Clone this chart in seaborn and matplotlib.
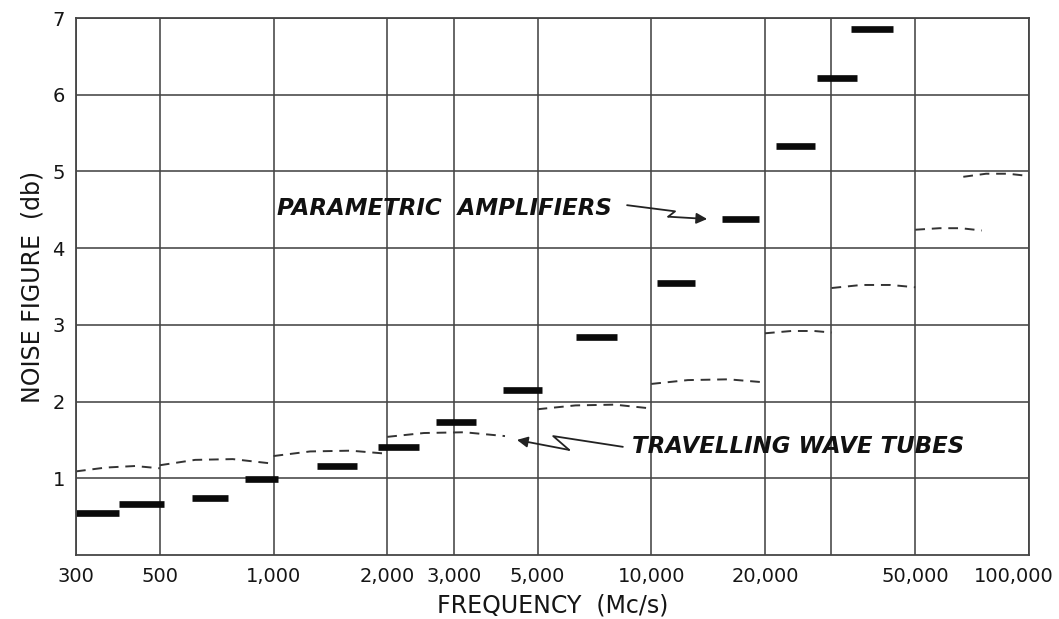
import numpy as np
import pandas as pd
import matplotlib
matplotlib.use("Agg")
import matplotlib.pyplot as plt
import matplotlib.transforms as mtransforms
import seaborn as sns

# ---------------- data ----------------
# Parametric amplifiers: horizontal bars (freq range in Mc/s, noise figure in db)
pa_lo = [300, 390, 610, 840, 1300, 1890, 2690, 4050, 6330, 10350, 15400, 21400, 27500, 33700]
pa_hi = [390, 512, 760, 1030, 1660, 2430, 3440, 5140, 8110, 13050, 19300, 27100, 35100, 43600]
pa_nf = [0.55, 0.66, 0.74, 0.99, 1.16, 1.41, 1.74, 2.15, 2.84, 3.55, 4.38, 5.33, 6.22, 6.86]

# Travelling wave tubes: dashed arcs, one per band
twt_freq = [
    [300, 360, 430, 500],
    [500, 620, 780, 1000],
    [1000, 1250, 1600, 2000],
    [2000, 2500, 3200, 4100],
    [5000, 6300, 8000, 10000],
    [10000, 12500, 16000, 20000],
    [20000, 23500, 27000, 30000],
    [30000, 36000, 43000, 50000],
    [50000, 58000, 66000, 75000],
    [67000, 77000, 88000, 100000],
]
twt_nf = [
    [1.09, 1.14, 1.16, 1.13],
    [1.17, 1.24, 1.25, 1.19],
    [1.29, 1.35, 1.36, 1.32],
    [1.54, 1.59, 1.60, 1.55],
    [1.90, 1.95, 1.96, 1.91],
    [2.23, 2.28, 2.29, 2.25],
    [2.89, 2.92, 2.92, 2.90],
    [3.48, 3.52, 3.52, 3.49],
    [4.24, 4.26, 4.26, 4.23],
    [4.93, 4.97, 4.97, 4.94],
]

x_ticks = [300, 500, 1000, 2000, 3000, 5000, 10000, 20000, 30000, 50000, 100000]
x_tick_labels = ["300", "500", "1,000", "2,000", "3,000", "5,000", "10,000", "20,000", "", "50,000", "100,000"]
y_ticks = [1, 2, 3, 4, 5, 6, 7]
y_tick_labels = ["1", "2", "3", "4", "5", "6", "7"]

# ---------------- build long tables ----------------
pa_rows = []
for i, (lo, hi, nf) in enumerate(zip(pa_lo, pa_hi, pa_nf)):
    pa_rows.append({"seg": i, "freq": lo, "nf": nf})
    pa_rows.append({"seg": i, "freq": hi, "nf": nf})
df_pa = pd.DataFrame(pa_rows)

twt_rows = []
for i, (fs, ns) in enumerate(zip(twt_freq, twt_nf)):
    for f, n in zip(fs, ns):
        twt_rows.append({"seg": i, "freq": f, "nf": n})
df_twt = pd.DataFrame(twt_rows)

# ---------------- style ----------------
sns.set_style("white")
plt.rcParams["font.family"] = ["DejaVu Sans"]

fig = plt.figure(figsize=(10.59, 6.19), dpi=100)
ax = fig.add_axes([76 / 1059, 1 - 555 / 619, (1029 - 76) / 1059, (555 - 18) / 619])

grid_c = "#454545"

sns.lineplot(data=df_twt, x="freq", y="nf", units="seg", estimator=None,
             color="#333333", lw=1.4, ax=ax, legend=False,
             dashes=False, linestyle=(0, (5, 3.5)))
sns.lineplot(data=df_pa, x="freq", y="nf", units="seg", estimator=None,
             color="#0a0a0a", lw=4.8, ax=ax, legend=False,
             solid_capstyle="butt")

ax.set_xscale("log")
ax.set_xlim(300, 100000)
ax.set_ylim(0, 7)

ax.set_xticks(x_ticks)
ax.set_xticklabels(x_tick_labels)
ax.xaxis.set_minor_locator(matplotlib.ticker.NullLocator())
ax.set_yticks(y_ticks)
ax.set_yticklabels(y_tick_labels)

ax.tick_params(axis="x", length=0, pad=9, labelsize=14, colors="#151515")
ax.tick_params(axis="y", length=0, pad=8, labelsize=14, colors="#151515")

# last x label shifted left as in the reference
lbls = ax.get_xticklabels()
off = mtransforms.ScaledTranslation(-15 / 100, 0, fig.dpi_scale_trans)
lbls[-1].set_transform(lbls[-1].get_transform() + off)

ax.grid(True, which="major", color=grid_c, lw=1.15)
for s in ax.spines.values():
    s.set_color(grid_c)
    s.set_linewidth(1.3)

ax.set_xlabel("FREQUENCY  (Mc/s)", fontsize=17, color="#151515", labelpad=5)
ax.set_ylabel("NOISE FIGURE  (db)", fontsize=17, color="#151515", labelpad=6)

# ---------------- annotations ----------------
txt_kw = dict(fontsize=16.5, fontstyle="italic", fontweight="bold", color="#111111", va="center")
ax.text(1020, 4.52, "PARAMETRIC  AMPLIFIERS", ha="left", **txt_kw)
ax.text(8890, 1.42, "TRAVELLING WAVE TUBES", ha="left", **txt_kw)

# zigzag arrow: parametric amplifiers
pa_arrow_x = [8630, 11560, 11090]
pa_arrow_y = [4.56, 4.48, 4.41]
ax.plot(pa_arrow_x, pa_arrow_y, color="#222222", lw=1.3)
ax.annotate("", xy=(14060, 4.38), xytext=(pa_arrow_x[-1], pa_arrow_y[-1]),
            arrowprops=dict(arrowstyle="-|>", color="#222222", lw=1.3,
                            mutation_scale=16, shrinkA=0, shrinkB=0))

# zigzag arrow: travelling wave tubes
tw_arrow_x = [8410, 5500, 6060]
tw_arrow_y = [1.41, 1.55, 1.37]
ax.plot(tw_arrow_x, tw_arrow_y, color="#222222", lw=1.3)
ax.annotate("", xy=(4410, 1.50), xytext=(tw_arrow_x[-1], tw_arrow_y[-1]),
            arrowprops=dict(arrowstyle="-|>", color="#222222", lw=1.3,
                            mutation_scale=16, shrinkA=0, shrinkB=0))

fig.savefig("out.png", dpi=100, facecolor="white")
